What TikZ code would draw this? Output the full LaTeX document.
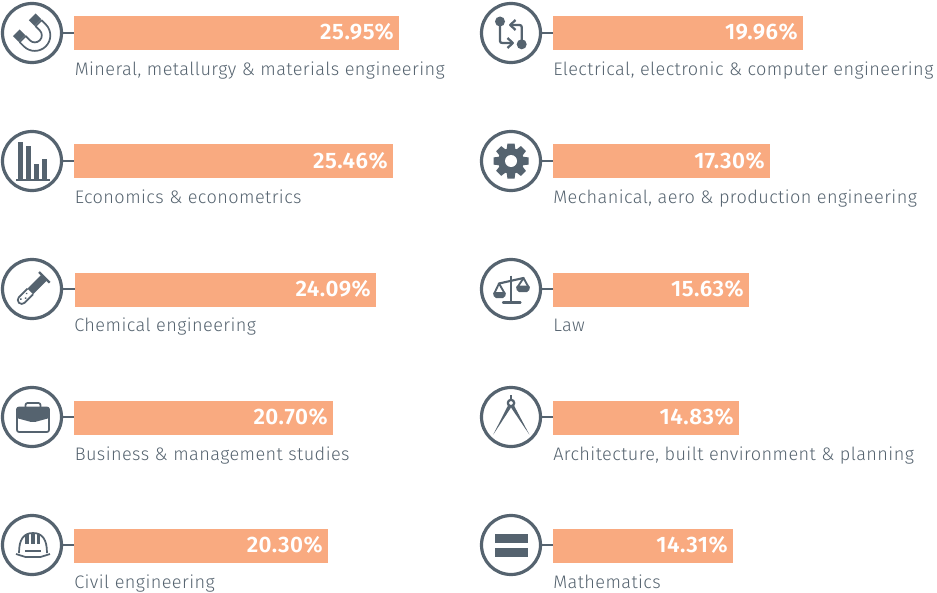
\documentclass[tikz,border=0pt]{standalone}
\usepackage{fontspec}
\setmainfont{Fira Sans}[LetterSpace=2.3,UprightFont=* Light,BoldFont=* SemiBold]
\definecolor{slate}{HTML}{55636F}
\definecolor{barfill}{HTML}{F9AA80}
\tikzset{
  ring/.style={circle,draw=slate,line width=2.4pt,minimum size=44.25pt,inner sep=0pt,fill=white},
  barbox/.style={fill=barfill,draw=none,anchor=north west,minimum height=25.5pt,inner sep=0pt,outer sep=0pt},
  linkline/.style={draw=slate,line width=2pt},
  valuetext/.style={anchor=base east,text=white,font=\fontsize{16.8}{18}\selectfont\bfseries,inner sep=0pt},
  labeltext/.style={anchor=base west,text=slate,font=\fontsize{13.6}{16}\selectfont,inner sep=0pt},
  ico/.style={draw=slate,line width=1.3pt,line join=round,fill=none},
  icof/.style={fill=slate,draw=none}
}
% name, cx, cy, bar x, bar end, bar top, value, label, label position
\newcommand{\statrow}[9]{%
  \node[ring] (c#1) at (#2,#3) {};
  \node[barbox,minimum width={(#5-#4)*0.75pt}] (b#1) at (#4,#6) {};
  \draw[linkline] (c#1.east) -- (c#1.east -| b#1.west);
  \node[valuetext] (v#1) at (#5-5,#3+7) {#7};
  \node[labeltext] (l#1) at #9 {#8};
}
\newcommand{\iconat}[3]{\begin{scope}[shift={(#1,#2)}]#3\end{scope}}
\begin{document}
\begin{tikzpicture}[x=0.75pt,y=-0.75pt]
\useasboundingbox (0,0) rectangle (937,592);
\statrow{a}{32}{33}{74}{399}{16}{25.95\%}{Mineral, metallurgy \& materials engineering}{(74.5,75)}
\statrow{b}{32}{161}{74}{393}{144}{25.46\%}{Economics \& econometrics}{(74.5,203)}
\statrow{c}{32}{289}{75}{376}{273}{24.09\%}{Chemical engineering}{(74,331)}
\statrow{d}{32}{417}{74}{333}{401}{20.70\%}{Business \& management studies}{(74.5,460)}
\statrow{e}{32}{545}{74}{328}{529}{20.30\%}{Civil engineering}{(74,588)}
\statrow{f}{511}{33}{553}{803}{16}{19.96\%}{Electrical, electronic \& computer engineering}{(553,75)}
\statrow{g}{511}{161}{553}{770}{144}{17.30\%}{Mechanical, aero \& production engineering}{(553,203)}
\statrow{h}{511}{289}{553}{749}{273}{15.63\%}{Law}{(553,331)}
\statrow{i}{511}{417}{553}{739}{401}{14.83\%}{Architecture, built environment \& planning}{(553,460)}
\statrow{j}{511}{545}{553}{733}{529}{14.31\%}{Mathematics}{(553,588)}
% magnet
\iconat{32}{33}{\begin{scope}[rotate=45,shift={(0.3,1.7)}]
  \draw[ico] (-15.5,-4) -- (-15.5,2) arc (180:0:15.5) -- (15.5,-4) -- (7,-4) -- (7,2) arc (0:180:7) -- (-7,-4) -- cycle;
  \fill[icof] (-16,-13) rectangle (-6.5,-5);
  \fill[icof] (6.5,-13) rectangle (16,-5);
\end{scope}}
% chart
\iconat{32}{161}{
  \fill[icof] (-14,-19) rectangle (-9,19);
  \fill[icof] (-6,-15) rectangle (-1,19);
  \fill[icof] (2,3) rectangle (7,19);
  \fill[icof] (10,-2) rectangle (15,19);
  \draw[ico] (-16,19) -- (18,19);
}
% test tube
\iconat{32}{289}{\begin{scope}[rotate=-45]
  \draw[ico,line width=1.8pt] (-7,-17) -- (8,-17);
  \fill[icof] (-3.5,-16.5) -- (4.5,-16.5) -- (4.5,3) -- (-3.5,3) -- cycle;
  \draw[ico] (-3.5,3) -- (-3.5,15) arc (180:0:4) -- (4.5,3);
  \fill[icof] (-0.7,7) circle (1) (2,11) circle (1) (-0.7,15) circle (1);
\end{scope}}
% briefcase
\iconat{32}{417}{
  \draw[ico,rounded corners=1.5pt] (-6.5,-10) -- (-6.5,-14) -- (8.5,-14) -- (8.5,-10);
  \draw[ico,rounded corners=1.5pt] (-15,-9.5) rectangle (17,15);
  \fill[icof,rounded corners=1.5pt] (-15.5,-10) -- (17.5,-10) -- (17.5,1) -- (1,5.5) -- (-15.5,1) -- cycle;
}
% helmet
\iconat{32}{545}{
  \draw[ico] (-13,8) .. controls (-13,-6) and (-8,-12) .. (1,-12) .. controls (10,-12) and (15,-6) .. (15,8);
  \draw[ico,rounded corners=2pt] (-16,9) .. controls (-10,11) and (-6,12) .. (-4,12) -- (6,12) .. controls (8,12) and (12,11) .. (18,9);
  \fill[icof] (-7,-11) rectangle (-3.5,-1);
  \fill[icof] (-1.5,-12) rectangle (2.5,-1);
  \fill[icof] (4.5,-11) rectangle (8,-1);
  \draw[ico] (-7,6) -- (9,6);
}
% pull request
\iconat{511}{33}{
  \fill[icof] (-11,-11.5) circle (5);
  \fill[icof] (10.7,11.3) circle (5);
  \draw[ico,line width=1.7pt] (-11,-11) -- (-11,8) .. controls (-11,9.5) and (-10,10) .. (-8.5,10) -- (1.5,10);
  \draw[ico,line width=1.7pt] (-3.5,5) -- (1.8,10) -- (-3.5,15);
  \draw[ico,line width=1.7pt] (10.7,11) -- (10.7,-6) .. controls (10.7,-7.5) and (9.7,-8) .. (8.2,-8) -- (-0.5,-8);
  \draw[ico,line width=1.7pt] (4.5,-13) -- (-0.8,-8) -- (4.5,-3);
}
% gear
\iconat{511}{161}{
  \fill[icof] (0,0) circle (13);
  \foreach \a in {0,45,...,315}{
    \fill[icof,rotate=\a] (-3.6,-17.5) -- (3.6,-17.5) -- (4.5,-10) -- (-4.5,-10) -- cycle;
  }
  \fill[white] (0,0) circle (6);
}
% scales
\iconat{511}{289}{
  \draw[ico,line width=1.6pt] (0,-13.5) -- (0,13.5);
  \draw[ico,line width=1.6pt,line cap=round] (-8,13.5) -- (9.5,13.5);
  \draw[ico,line width=1.6pt,line cap=round] (-12,-5.5) -- (12.5,-11);
  \draw[ico,line width=1.4pt] (-17,5) -- (-12,-5.5) -- (-6,5);
  \draw[ico,line width=1.4pt] (6,-1) -- (12.5,-11) -- (18,-1);
  \fill[icof,rounded corners=1.5pt] (-18,3) -- (-5,3) -- (-6,9) -- (-17,9) -- cycle;
  \fill[icof,rounded corners=1.5pt] (5,-3.5) -- (19,-3.5) -- (18,3) -- (6,3) -- cycle;
}
% compass
\iconat{511}{417}{
  \fill[icof] (-1.4,-22) rectangle (1.4,-17);
  \draw[ico,line width=1.7pt] (0,-14) circle (3.2);
  \fill[icof] (-3,-11.5) -- (0,-9.5) -- (-17.7,17.5) -- cycle;
  \fill[icof] (3,-11.5) -- (0,-9.5) -- (18.3,17.5) -- cycle;
}
% equals
\iconat{511}{545}{
  \fill[icof] (-16,-11) rectangle (17,-2.3);
  \fill[icof] (-16,2.8) rectangle (17,11.7);
}
\end{tikzpicture}
\end{document}
